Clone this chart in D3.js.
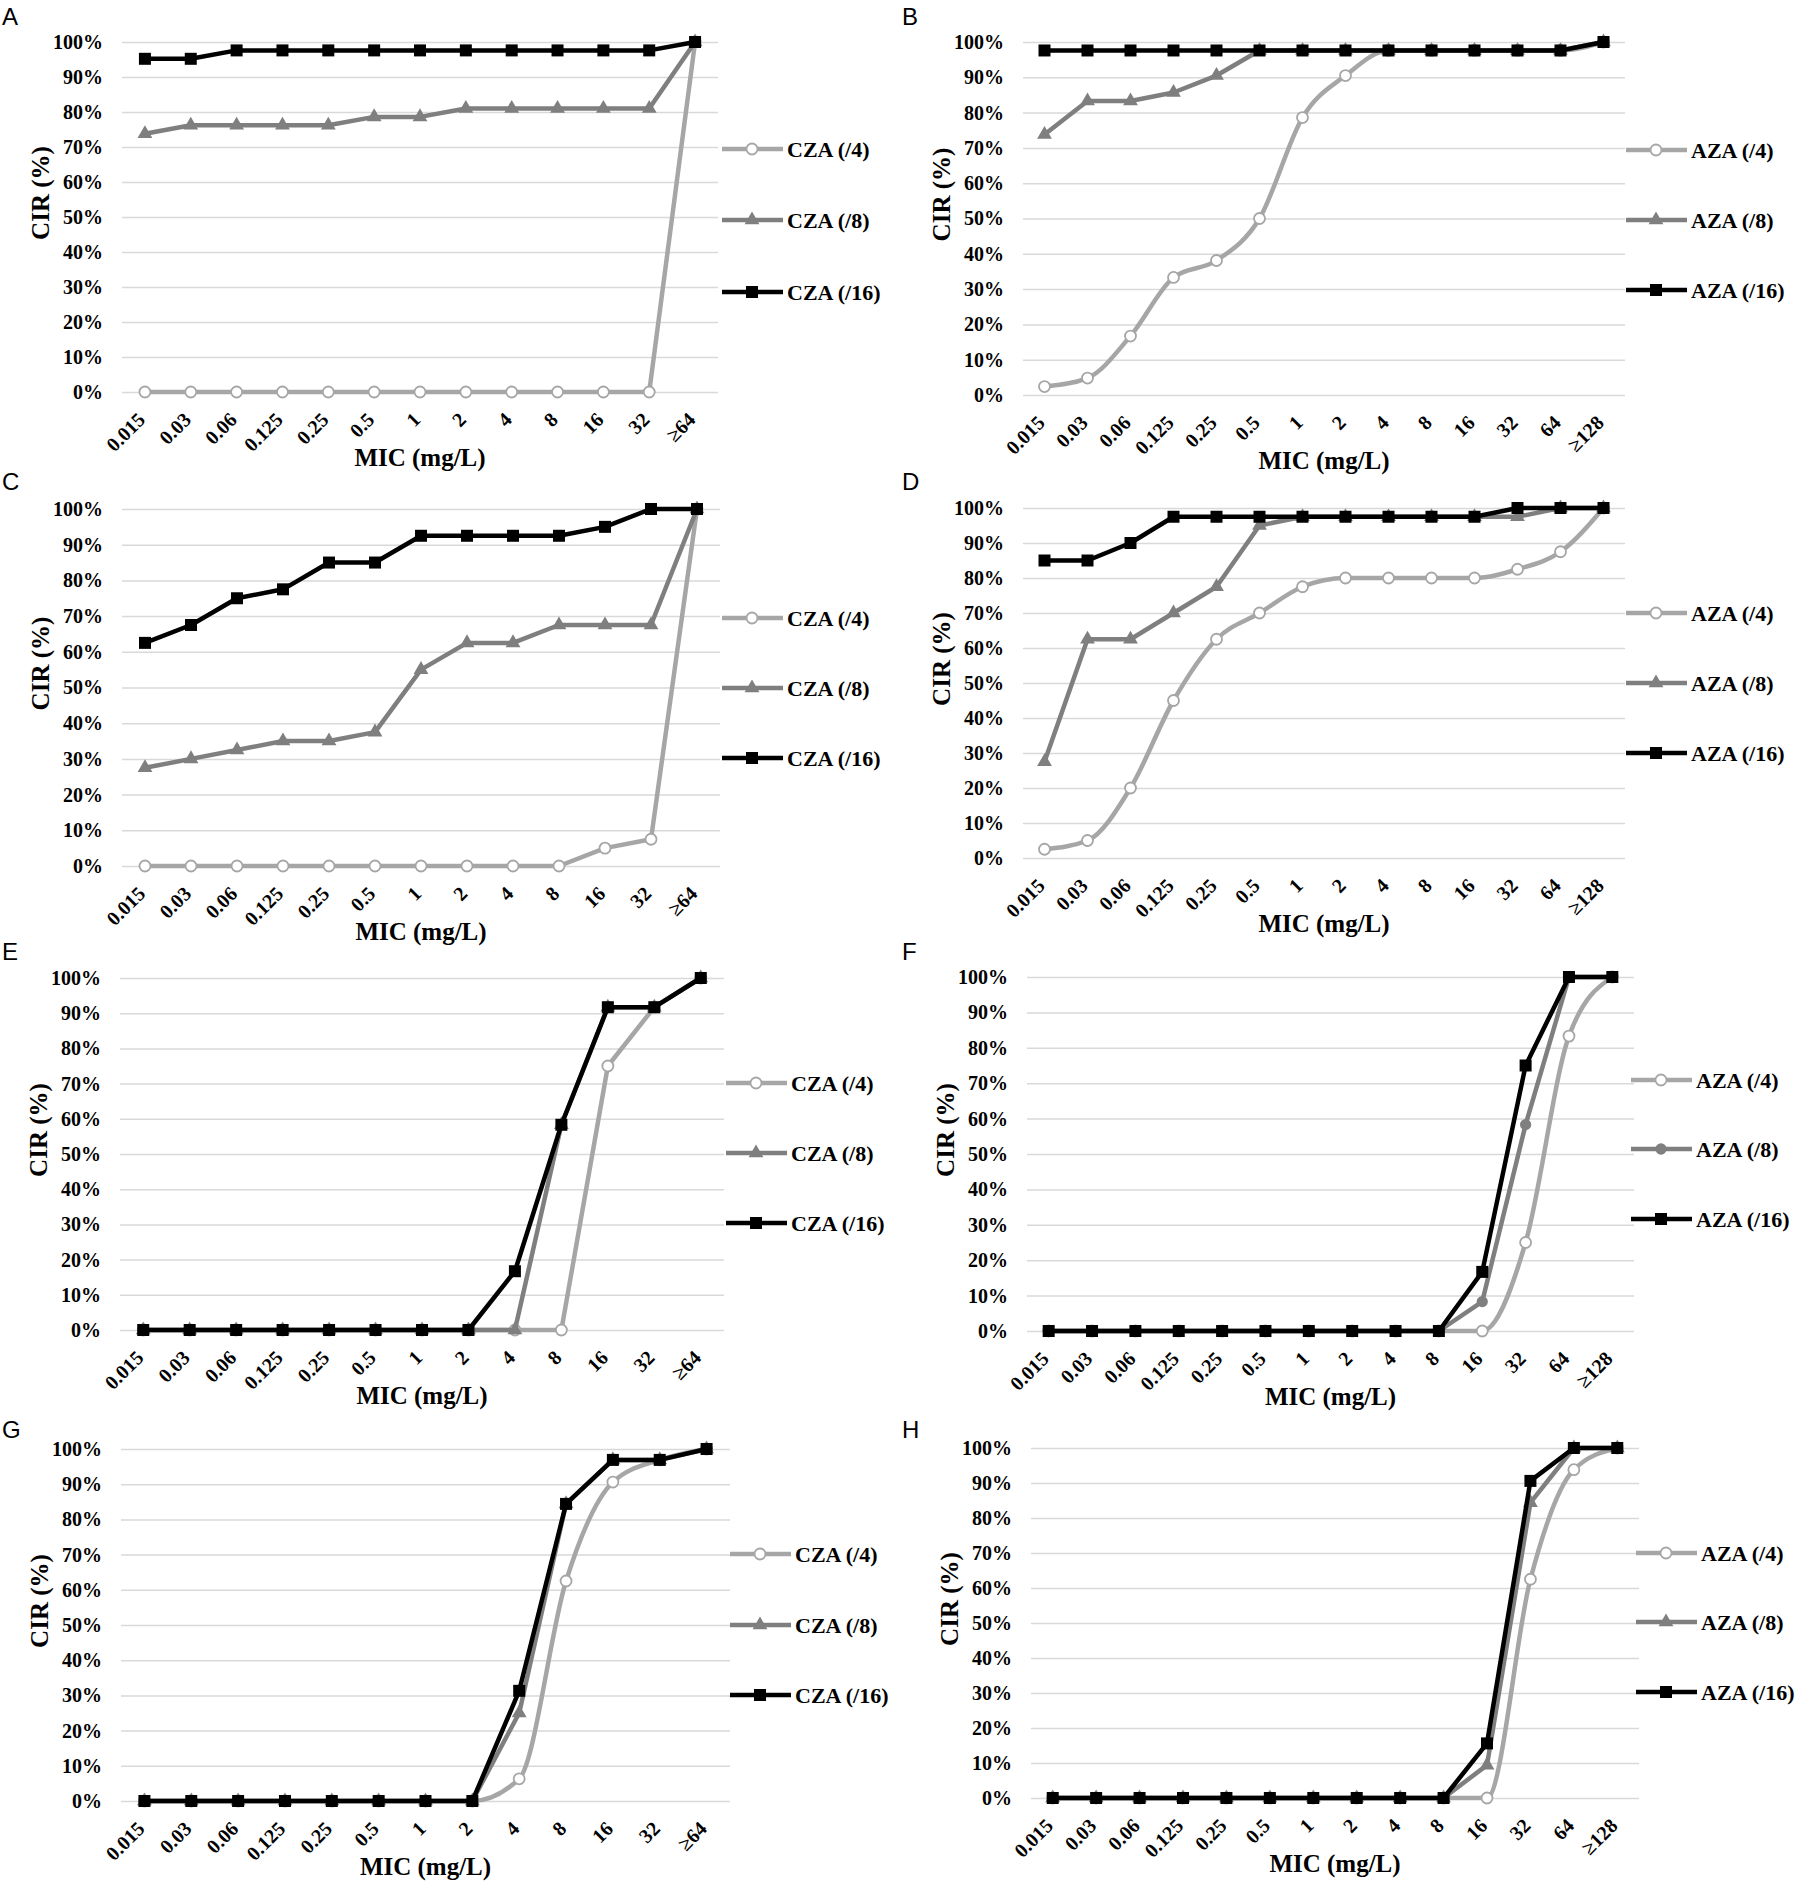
<!DOCTYPE html>
<html>
<head>
<meta charset="utf-8">
<script src="https://cdn.jsdelivr.net/npm/d3@7"></script>
<style>
  body { margin: 0; background: #fff; }
  svg { display: block; }
  .tick text { font-family: 'Liberation Serif', serif; font-weight: bold; fill: #000; }
</style>
</head>
<body>
<div id="chart"></div>
<script>
// MIC categories
const micCza = ['0.015', '0.03', '0.06', '0.125', '0.25', '0.5', '1', '2', '4', '8', '16', '32', '≥64']
const micAza = ['0.015', '0.03', '0.06', '0.125', '0.25', '0.5', '1', '2', '4', '8', '16', '32', '64', '≥128']

const czaNames = ['CZA (/4)', 'CZA (/8)', 'CZA (/16)']
const azaNames = ['AZA (/4)', 'AZA (/8)', 'AZA (/16)']

const yTicks = [0, 10, 20, 30, 40, 50, 60, 70, 80, 90, 100]

// CIR (%)
const aCza4 = [0, 0, 0, 0, 0, 0, 0, 0, 0, 0, 0, 0, 100]
const aCza8 = [73.8, 76.2, 76.2, 76.2, 76.2, 78.6, 78.6, 81, 81, 81, 81, 81, 100]
const aCza16 = [95.2, 95.2, 97.6, 97.6, 97.6, 97.6, 97.6, 97.6, 97.6, 97.6, 97.6, 97.6, 100]

const bAza4 = [2.4, 4.8, 16.7, 33.3, 38.1, 50, 78.6, 90.5, 97.6, 97.6, 97.6, 97.6, 97.6, 100]
const bAza8 = [73.8, 83.3, 83.3, 85.7, 90.5, 97.6, 97.6, 97.6, 97.6, 97.6, 97.6, 97.6, 97.6, 100]
const bAza16 = [97.6, 97.6, 97.6, 97.6, 97.6, 97.6, 97.6, 97.6, 97.6, 97.6, 97.6, 97.6, 97.6, 100]

const cCza4 = [0, 0, 0, 0, 0, 0, 0, 0, 0, 0, 5, 7.5, 100]
const cCza8 = [27.5, 30, 32.5, 35, 35, 37.5, 55, 62.5, 62.5, 67.5, 67.5, 67.5, 100]
const cCza16 = [62.5, 67.5, 75, 77.5, 85, 85, 92.5, 92.5, 92.5, 92.5, 95, 100, 100]

const dAza4 = [2.5, 5, 20, 45, 62.5, 70, 77.5, 80, 80, 80, 80, 82.5, 87.5, 100]
const dAza8 = [27.5, 62.5, 62.5, 70, 77.5, 95, 97.5, 97.5, 97.5, 97.5, 97.5, 97.5, 100, 100]
const dAza16 = [85, 85, 90, 97.5, 97.5, 97.5, 97.5, 97.5, 97.5, 97.5, 97.5, 100, 100, 100]

const eCza4 = [0, 0, 0, 0, 0, 0, 0, 0, 0, 0, 75, 91.7, 100]
const eCza8 = [0, 0, 0, 0, 0, 0, 0, 0, 0, 58.3, 91.7, 91.7, 100]
const eCza16 = [0, 0, 0, 0, 0, 0, 0, 0, 16.7, 58.3, 91.7, 91.7, 100]

const fAza4 = [0, 0, 0, 0, 0, 0, 0, 0, 0, 0, 0, 25, 83.3, 100]
const fAza8 = [0, 0, 0, 0, 0, 0, 0, 0, 0, 0, 8.3, 58.3, 100, 100]
const fAza16 = [0, 0, 0, 0, 0, 0, 0, 0, 0, 0, 16.7, 75, 100, 100]

const gCza4 = [0, 0, 0, 0, 0, 0, 0, 0, 6.3, 62.5, 90.6, 96.9, 100]
const gCza8 = [0, 0, 0, 0, 0, 0, 0, 0, 25, 84.4, 96.9, 96.9, 100]
const gCza16 = [0, 0, 0, 0, 0, 0, 0, 0, 31.3, 84.4, 96.9, 96.9, 100]

const hAza4 = [0, 0, 0, 0, 0, 0, 0, 0, 0, 0, 0, 62.5, 93.8, 100]
const hAza8 = [0, 0, 0, 0, 0, 0, 0, 0, 0, 0, 9.4, 84.4, 100, 100]
const hAza16 = [0, 0, 0, 0, 0, 0, 0, 0, 0, 0, 15.6, 90.6, 100, 100]

// panel layout (plot box in page pixels)
const panels = [
  { label: 'A', cats: micCza, names: czaNames, series: [aCza4, aCza8, aCza16], left: 122, right: 718, top: 42, bottom: 392, legendX: 722, legendY: [149, 220, 292], labelY: 25, smooth: false, mid: 'triangle' },
  { label: 'B', cats: micAza, names: azaNames, series: [bAza4, bAza8, bAza16], left: 1023, right: 1625, top: 42, bottom: 395, legendX: 1626, legendY: [150, 220, 290], labelY: 25, smooth: true, mid: 'triangle' },
  { label: 'C', cats: micCza, names: czaNames, series: [cCza4, cCza8, cCza16], left: 122, right: 720, top: 509, bottom: 866, legendX: 722, legendY: [618, 688, 758], labelY: 490, smooth: false, mid: 'triangle' },
  { label: 'D', cats: micAza, names: azaNames, series: [dAza4, dAza8, dAza16], left: 1023, right: 1625, top: 508, bottom: 858, legendX: 1626, legendY: [613, 683, 753], labelY: 490, smooth: true, mid: 'triangle' },
  { label: 'E', cats: micCza, names: czaNames, series: [eCza4, eCza8, eCza16], left: 120, right: 724, top: 978, bottom: 1330, legendX: 726, legendY: [1083, 1153, 1223], labelY: 960, smooth: false, mid: 'triangle' },
  { label: 'F', cats: micAza, names: azaNames, series: [fAza4, fAza8, fAza16], left: 1027, right: 1634, top: 977, bottom: 1331, legendX: 1631, legendY: [1080, 1149, 1219], labelY: 960, smooth: true, mid: 'circle' },
  { label: 'G', cats: micCza, names: czaNames, series: [gCza4, gCza8, gCza16], left: 121, right: 730, top: 1449, bottom: 1801, legendX: 730, legendY: [1554, 1625, 1695], labelY: 1438, smooth: true, mid: 'triangle' },
  { label: 'H', cats: micAza, names: azaNames, series: [hAza4, hAza8, hAza16], left: 1031, right: 1639, top: 1448, bottom: 1798, legendX: 1636, legendY: [1553, 1622, 1692], labelY: 1438, smooth: true, mid: 'triangle' }
]

const colors = ['#a6a6a6', '#7f7f7f', '#000000']
const serif = "'Liberation Serif', 'Times New Roman', serif"

var svg = d3
  .select('#chart')
  .append('svg')
  .attr('width', 1797)
  .attr('height', 1884)

svg.append('rect').attr('width', 1797).attr('height', 1884).attr('fill', '#fff')

function drawMarker(g, kind, idx, x, y) {
  if (idx === 0) {
    g.append('circle')
      .attr('cx', x)
      .attr('cy', y)
      .attr('r', 5.5)
      .attr('fill', '#fff')
      .attr('stroke', colors[0])
      .attr('stroke-width', 1.8)
  } else if (idx === 1) {
    var sym = kind === 'circle' ? d3.symbolCircle : d3.symbolTriangle
    g.append('path')
      .attr('d', d3.symbol().type(sym).size(kind === 'circle' ? 100 : 95)())
      .attr('transform', 'translate(' + x + ',' + y + ')')
      .attr('fill', colors[1])
  } else {
    g.append('path')
      .attr('d', d3.symbol().type(d3.symbolSquare).size(144)())
      .attr('transform', 'translate(' + x + ',' + y + ')')
      .attr('fill', colors[2])
  }
}

panels.forEach(function(p) {
  var g = svg.append('g')

  var xScale = d3
    .scalePoint()
    .domain(p.cats)
    .range([p.left, p.right])
    .padding(0.5)

  var yScale = d3
    .scaleLinear()
    .domain([0, 100])
    .range([p.bottom, p.top])

  // gridlines + y labels
  var yAxis = d3
    .axisLeft(yScale)
    .tickValues(yTicks)
    .tickFormat(d => d + '%')
    .tickSize(-(p.right - p.left))
    .tickPadding(19)

  var ya = g
    .append('g')
    .attr('transform', 'translate(' + p.left + ',0)')
    .call(yAxis)
  ya.select('.domain').remove()
  ya.selectAll('line').attr('stroke', '#d9d9d9').attr('stroke-width', 1.5)
  ya.selectAll('text').style('font-size', '20px')

  // x labels
  var xAxis = d3.axisBottom(xScale).tickSize(0)
  var xa = g
    .append('g')
    .attr('transform', 'translate(0,' + p.bottom + ')')
    .call(xAxis)
  xa.select('.domain').remove()
  xa.selectAll('text')
    .attr('x', 0)
    .attr('y', 0)
    .attr('dy', 0)
    .attr('transform', 'translate(1,29) rotate(-45)')
    .style('text-anchor', 'end')
    .style('font-size', '20px')

  // series lines + markers, /4 first so /16 sits on top
  p.series.forEach(function(vals, i) {
    var line = d3
      .line()
      .x((d, j) => xScale(p.cats[j]))
      .y(d => yScale(d))
    if (p.smooth && i === 0) line.curve(d3.curveMonotoneX)

    g.append('path')
      .datum(vals)
      .attr('d', line)
      .attr('fill', 'none')
      .attr('stroke', colors[i])
      .attr('stroke-width', 4.5)
      .attr('stroke-linejoin', 'round')

    vals.forEach(function(v, j) {
      drawMarker(g, p.mid, i, xScale(p.cats[j]), yScale(v))
    })
  })

  // legend
  p.names.forEach(function(name, i) {
    var ly = p.legendY[i]
    g.append('line')
      .attr('x1', p.legendX)
      .attr('x2', p.legendX + 61)
      .attr('y1', ly)
      .attr('y2', ly)
      .attr('stroke', colors[i])
      .attr('stroke-width', 4.5)
    drawMarker(g, p.mid, i, p.legendX + 30, ly)
    g.append('text')
      .attr('x', p.legendX + 65)
      .attr('y', ly)
      .attr('dy', '0.35em')
      .style('font-family', serif)
      .style('font-weight', 'bold')
      .style('font-size', '22px')
      .text(name)
  })

  // axis titles
  g.append('text')
    .attr('transform', 'translate(' + (p.left - 73) + ',' + ((p.top + p.bottom) / 2 - 24) + ') rotate(-90)')
    .attr('text-anchor', 'middle')
    .style('font-family', serif)
    .style('font-weight', 'bold')
    .style('font-size', '25px')
    .text('CIR (%)')

  g.append('text')
    .attr('x', (p.left + p.right) / 2)
    .attr('y', p.bottom + 74)
    .attr('text-anchor', 'middle')
    .style('font-family', serif)
    .style('font-weight', 'bold')
    .style('font-size', '25px')
    .text('MIC (mg/L)')

  // panel letter
  g.append('text')
    .attr('x', p.left < 500 ? 2 : 902)
    .attr('y', p.labelY)
    .style('font-family', "'Liberation Sans', Arial, sans-serif")
    .style('font-size', '24px')
    .text(p.label)
})
</script>
</body>
</html>
